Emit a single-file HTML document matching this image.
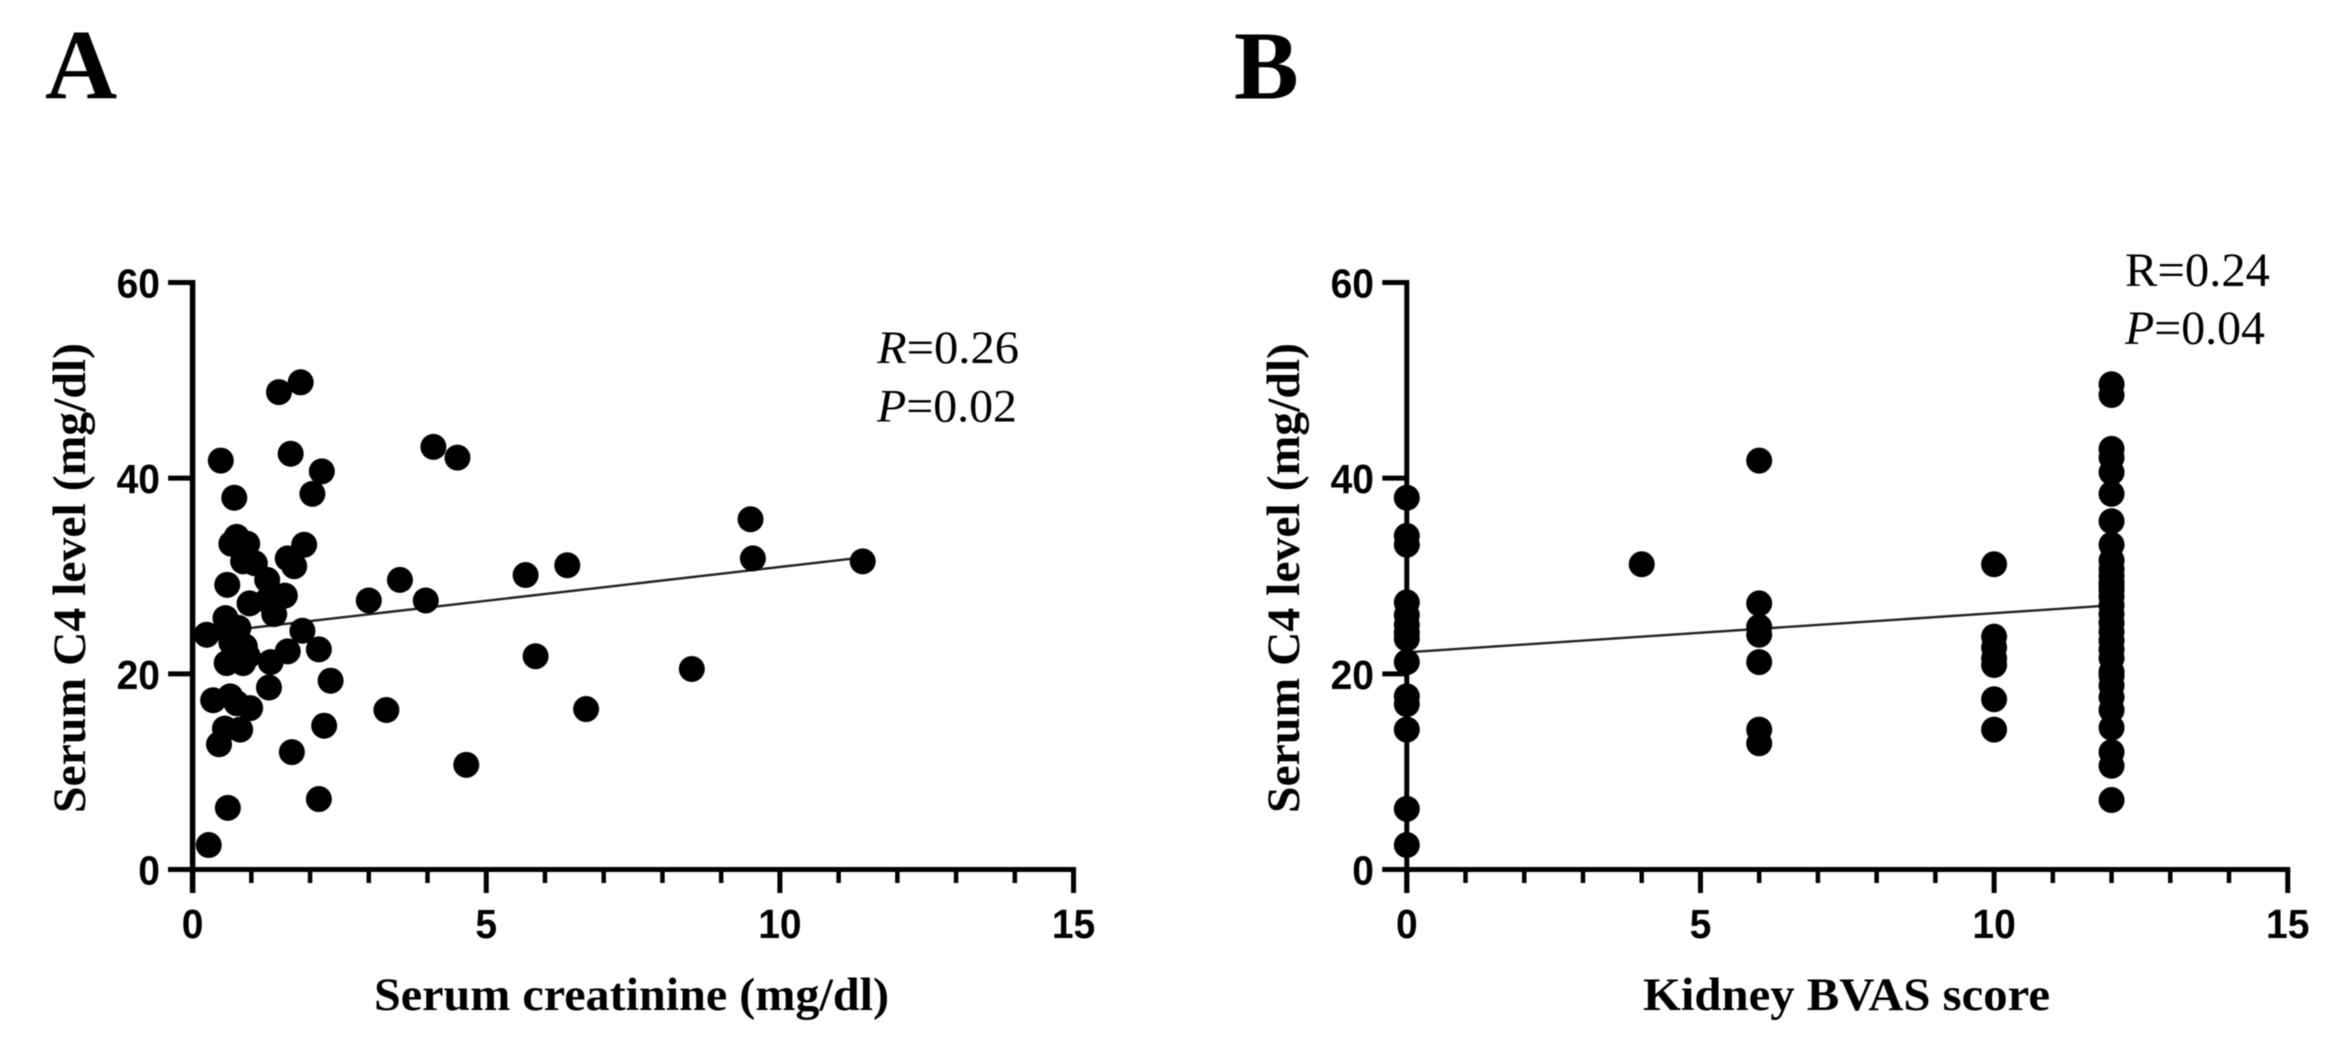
<!DOCTYPE html>
<html lang="en">
<head>
<meta charset="utf-8">
<title>Serum C4 correlations</title>
<style>
html,body{margin:0;padding:0;background:#fff;}
svg{display:block;filter:blur(0.6px);}
text{fill:#000;}
.serif{font-family:"Liberation Serif",serif;}
.sans{font-family:"Liberation Sans",sans-serif;font-weight:700;}
</style>
</head>
<body>
<svg id="figure" xmlns="http://www.w3.org/2000/svg" width="2338" height="1053" viewBox="0 0 2338 1053">
  <rect x="0" y="0" width="2338" height="1053" fill="#fff"/>
  <text class="serif" x="45" y="98.5" font-size="100" font-weight="700">A</text>
  <text class="serif" x="1234" y="98.5" font-size="97" font-weight="700">B</text>

  <g id="panel-a"></g>
  <g id="panel-b"></g>

  <text class="serif" transform="translate(85,813) rotate(-90)" font-size="47" font-weight="700" textLength="470" lengthAdjust="spacingAndGlyphs">Serum C4 level (mg/dl)</text>
  <text class="serif" x="374" y="1010" font-size="47" font-weight="700" textLength="515" lengthAdjust="spacingAndGlyphs">Serum creatinine (mg/dl)</text>
  <text class="serif" transform="translate(1299,813) rotate(-90)" font-size="47" font-weight="700" textLength="470" lengthAdjust="spacingAndGlyphs">Serum C4 level (mg/dl)</text>
  <text class="serif" x="1643" y="1010" font-size="47" font-weight="700" textLength="407" lengthAdjust="spacingAndGlyphs">Kidney BVAS score</text>

  <text class="serif" x="877" y="363" font-size="47" textLength="142" lengthAdjust="spacingAndGlyphs"><tspan font-style="italic">R</tspan>=0.26</text>
  <text class="serif" x="877" y="421.5" font-size="47" textLength="140" lengthAdjust="spacingAndGlyphs"><tspan font-style="italic">P</tspan>=0.02</text>
  <text class="serif" x="2125" y="286" font-size="48" textLength="145" lengthAdjust="spacingAndGlyphs">R=0.24</text>
  <text class="serif" x="2125" y="344" font-size="48" textLength="140" lengthAdjust="spacingAndGlyphs"><tspan font-style="italic">P</tspan>=0.04</text>
</svg>
<script>
const xTickLabels = [0, 5, 10, 15];
const xMinorTicks = [1, 2, 3, 4, 6, 7, 8, 9, 11, 12, 13, 14];
const yTickLabels = [0, 20, 40, 60];

const creatinine = [
  1.47, 1.84, 0.48, 1.67, 2.2, 2.04, 0.71, 4.1, 4.51,
  0.75, 0.66, 0.93, 0.86, 1.06, 1.9, 1.62, 1.73, 0.59, 1.27, 1.57, 1.35, 0.97, 1.27, 1.39, 0.56,
  0.78, 0.64, 0.24, 1.87, 2.15, 0.89, 1.62, 0.66, 1.33, 0.58, 0.86, 0.94, 2.35, 1.3,
  0.35, 0.64, 0.75, 0.98, 0.55, 0.81, 0.45, 2.24, 1.69, 2.15, 0.6, 0.275,
  3.0, 3.53, 3.97, 5.67, 6.38, 5.84, 3.3, 6.7, 4.66, 8.5, 9.5, 9.54, 11.41
];
const c4ByCreatinine = [
  48.8, 49.8, 41.8, 42.5, 40.7, 38.4, 38.0, 43.2, 42.1,
  34.0, 33.3, 33.3, 31.5, 31.3, 33.2, 31.8, 31.0, 29.1, 29.6, 28.0, 28.0, 27.2, 27.5, 26.1, 25.7,
  24.7, 24.0, 24.0, 24.4, 22.5, 22.8, 22.3, 23.2, 21.2, 21.1, 21.1, 21.8, 19.3, 18.6,
  17.3, 17.7, 17.0, 16.5, 14.4, 14.3, 12.8, 14.7, 12.0, 7.2, 6.3, 2.5,
  27.5, 29.6, 27.5, 30.1, 31.1, 21.8, 16.3, 16.4, 10.7, 20.5, 35.8, 31.8, 31.5
];
const creatinineFitX = [0.27, 11.41];
const creatinineFitY = [24.2, 31.9];

const bvas = [
  0, 0, 0, 0, 0, 0, 0, 0, 0, 0, 0, 0, 0, 0,
  4,
  6, 6, 6, 6, 6, 6, 6,
  10, 10, 10, 10, 10, 10, 10,
  12, 12, 12, 12, 12, 12, 12, 12, 12, 12, 12, 12, 12, 12, 12, 12, 12,
  12, 12, 12, 12, 12, 12, 12, 12, 12, 12, 12, 12, 12, 12
];
const c4ByBvas = [
  38.0, 34.1, 33.2, 27.3, 26.0, 25.0, 24.2, 23.6, 21.2, 17.7, 16.9, 14.3, 6.2, 2.5,
  31.2,
  41.8, 27.2, 24.8, 24.0, 21.2, 14.3, 12.9,
  31.2, 23.8, 22.7, 21.6, 20.9, 17.4, 14.3,
  7.1, 10.6, 12.0, 14.5, 16.3, 17.6, 18.8, 19.8, 20.2, 21.6, 22.5, 24.3, 26.1, 27.0, 27.9, 29.0, 29.3,
  30.7, 31.6, 33.2, 35.6, 38.4, 40.6, 42.1, 43.0, 48.5, 49.6, 25.2, 23.4, 28.6, 30.0
];
const bvasFitX = [0, 12];
const bvasFitY = [22.2, 27.0];

const SVGNS = 'http://www.w3.org/2000/svg';

function scaleX(originX, value) { return originX + value * 58.73; }
function scaleY(value) { return 869.5 - value * 9.783; }

function makeLine(parent, x1, y1, x2, y2, width, color) {
  const l = document.createElementNS(SVGNS, 'line');
  l.setAttribute('x1', x1);
  l.setAttribute('y1', y1);
  l.setAttribute('x2', x2);
  l.setAttribute('y2', y2);
  l.setAttribute('stroke', color);
  l.setAttribute('stroke-width', width);
  parent.appendChild(l);
  return l;
}

function makeTickLabel(parent, x, y, value, anchor) {
  const t = document.createElementNS(SVGNS, 'text');
  const s = String(value);
  t.setAttribute('class', 'sans');
  t.setAttribute('x', x);
  t.setAttribute('y', y);
  t.setAttribute('font-size', '41');
  t.setAttribute('text-anchor', anchor);
  t.setAttribute('textLength', s.length * 21.7);
  t.setAttribute('lengthAdjust', 'spacingAndGlyphs');
  t.textContent = s;
  parent.appendChild(t);
  return t;
}

function drawPanel(panelId, originX, axisWidth, labelRight, xs, ys, fitX, fitY) {
  const g = document.getElementById(panelId);
  const axisLeft = originX - 24.5;

  const fit = makeLine(g, scaleX(originX, fitX[0]), scaleY(fitY[0]), scaleX(originX, fitX[1]), scaleY(fitY[1]), 2.4, '#222');
  
  

  const yAxis = makeLine(g, originX, scaleY(60) - 2.5, originX, 893, axisWidth, '#000');
  
  

  const xAxis = makeLine(g, axisLeft, scaleY(0), scaleX(originX, 15) + 2.5, scaleY(0), 5, '#000');
  
  

  yTickLabels.forEach(function (v) {
    const tick = makeLine(g, axisLeft, scaleY(v), originX, scaleY(v), 5, '#000');
    
    
    const lab = makeTickLabel(g, labelRight, scaleY(v) + 15, v, 'end');
    
    
  });

  xTickLabels.forEach(function (v) {
    const px = scaleX(originX, v);
    const tick = makeLine(g, px, scaleY(0), px, 893, 5, '#000');
    
    
    const lab = makeTickLabel(g, px, 938, v, 'middle');
    
    
  });

  xMinorTicks.forEach(function (v) {
    const px = scaleX(originX, v);
    const tick = makeLine(g, px, scaleY(0), px, 883, 4.5, '#000');
    
    
  });

  xs.forEach(function (v, i) {
    const c = document.createElementNS(SVGNS, 'circle');
    c.setAttribute('cx', scaleX(originX, v));
    c.setAttribute('cy', scaleY(ys[i]));
    c.setAttribute('r', 13);
    c.setAttribute('fill', '#000');
    
    
    g.appendChild(c);
  });
}

drawPanel('panel-a', 192.6, 5.5, 160, creatinine, c4ByCreatinine, creatinineFitX, creatinineFitY);
drawPanel('panel-b', 1406.8, 5, 1374, bvas, c4ByBvas, bvasFitX, bvasFitY);
</script>
</body>
</html>
